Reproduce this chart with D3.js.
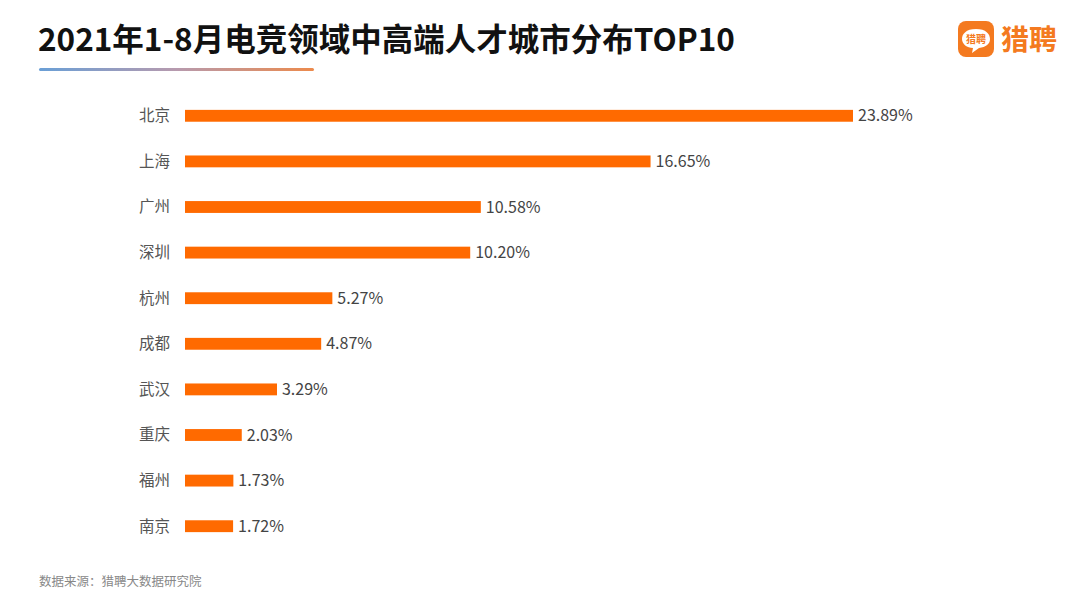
<!DOCTYPE html>
<html><head><meta charset="utf-8">
<script src="https://cdn.jsdelivr.net/npm/d3@7"></script>
<style>body{margin:0;background:#fff}svg{font-family:"Noto Sans CJK SC","Noto Sans",sans-serif}</style>
</head><body>
<div id="chart"></div>
<script>
var cities = ["北京","上海","广州","深圳","杭州","成都","武汉","重庆","福州","南京"];
var shares = [23.89, 16.65, 10.58, 10.20, 5.27, 4.87, 3.29, 2.03, 1.73, 1.72];

var W = 1080, H = 608;
var svg = d3.select("#chart").append("svg").attr("width", W).attr("height", H);

// title
svg.append("text").attr("x", 38).attr("y", 51)
    .style("font-size", "31.5px").style("font-weight", "bold").attr("fill", "#111")
    .text("2021年1-8月电竞领域中高端人才城市分布TOP10");

var grad = svg.append("defs").append("linearGradient").attr("id", "ul");
grad.append("stop").attr("offset", "0%").attr("stop-color", "#6a9fd6");
grad.append("stop").attr("offset", "50%").attr("stop-color", "#b79aae");
grad.append("stop").attr("offset", "100%").attr("stop-color", "#ec8a4c");
svg.append("rect").attr("x", 39).attr("y", 68).attr("width", 275).attr("height", 3)
    .attr("rx", 1.5).attr("fill", "url(#ul)");

// logo
var logo = svg.append("g").attr("transform", "translate(958,21)");
logo.append("rect").attr("width", 36).attr("height", 36).attr("rx", 8).attr("fill", "#f47a20");
logo.append("path").attr("d", "M18,8 C8,8 4,13 4,18 C4,23 9,27 15,27 L14,32 L21,27 C28,26 32,23 32,18 C32,13 28,8 18,8 Z").attr("fill", "#fff");
logo.append("text").attr("x", 18).attr("y", 22).attr("text-anchor", "middle")
    .style("font-size", "10px").style("font-weight", "bold").attr("fill", "#f47a20").text("猎聘");
svg.append("text").attr("x", 1001).attr("y", 50)
    .style("font-size", "28px").style("font-weight", "bold").attr("fill", "#f47a20").text("猎聘");

// scales
var x = d3.scaleLinear().domain([0, 23.89]).range([185, 853]);
var y = d3.scaleBand().domain(cities).range([93, 549]).paddingInner(0.74).paddingOuter(0.37);

svg.selectAll(".bar").data(cities).enter().append("rect")
    .attr("x", x(0)).attr("y", function (d) { return y(d); })
    .attr("width", function (d, i) { return x(shares[i]) - x(0); })
    .attr("height", y.bandwidth()).attr("fill", "#ff6a00");

svg.selectAll(".lab").data(cities).enter().append("text")
    .attr("x", 170).attr("y", function (d) { return y(d) + y.bandwidth() / 2; })
    .attr("dy", "0.35em").attr("text-anchor", "end")
    .style("font-size", "15.5px").attr("fill", "#555").text(function (d) { return d; });

svg.selectAll(".val").data(cities).enter().append("text")
    .attr("x", function (d, i) { return x(shares[i]) + 5; })
    .attr("y", function (d) { return y(d) + y.bandwidth() / 2; })
    .attr("dy", "0.35em")
    .style("font-size", "16px").attr("fill", "#444")
    .text(function (d, i) { return shares[i].toFixed(2) + "%"; });

svg.append("text").attr("x", 39).attr("y", 586)
    .style("font-size", "12.5px").attr("fill", "#888").text("数据来源：猎聘大数据研究院");
</script>
</body></html>
